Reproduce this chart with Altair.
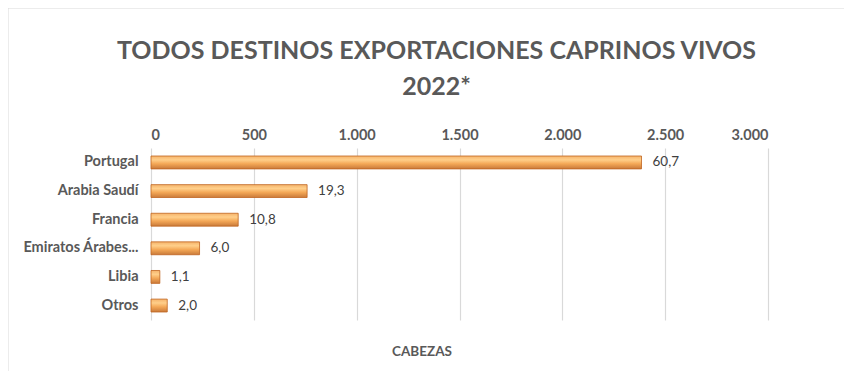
import altair as alt
import pandas as pd

paises = ["Portugal", "Arabia Saudí", "Francia", "Emiratos Árabes...", "Libia", "Otros"]
cabezas = [2385, 759, 424, 236, 43, 79]
etiquetas = ["60,7", "19,3", "10,8", "6,0", "1,1", "2,0"]
ticks = [0, 500, 1000, 1500, 2000, 2500, 3000]

df = pd.DataFrame({"pais": paises, "cabezas": cabezas, "etiqueta": etiquetas})

W, H = 617, 172
FONT = "Lato"
GRAY = "#595959"

yenc = alt.Y("pais:N", sort=paises, scale=alt.Scale(paddingInner=0.55, paddingOuter=0.28),
             axis=alt.Axis(title=None, labelFont=FONT, labelFontWeight="bold", labelFontSize=14.5,
                           labelColor=GRAY, labelPadding=13, ticks=False, domain=False,
                           grid=False, labelLimit=140))

xscale = alt.Scale(domain=[0, 3000], nice=False)

frame = alt.Chart(df).mark_rect(fill="transparent", stroke="#d9d9d9", strokeWidth=1).encode(
    x=alt.value(-143), x2=alt.value(W + 300), y=alt.value(-140), y2=alt.value(H + 300)
).transform_filter("datum.pais == 'Portugal'")

bars = alt.Chart(df).mark_bar(
    color=alt.Gradient(gradient="linear", x1=0, x2=0, y1=0, y2=1,
                       stops=[alt.GradientStop(offset=0, color="#F5B36B"),
                              alt.GradientStop(offset=0.3, color="#FFCF8A"),
                              alt.GradientStop(offset=0.6, color="#F4A857"),
                              alt.GradientStop(offset=1, color="#C97A3A")]),
    stroke="#C0651F", strokeWidth=0.8
).encode(
    x=alt.X("cabezas:Q", scale=xscale,
            axis=alt.Axis(orient="top", values=ticks, format=",.0f", title=None,
                          labelFont=FONT, labelFontWeight="bold", labelFontSize=14.5,
                          labelColor=GRAY, labelPadding=6, ticks=False, domain=False,
                          grid=True, gridColor="#d9d9d9", gridWidth=1.2)),
    y=yenc,
)

labels = alt.Chart(df).mark_text(align="left", baseline="middle", dx=11, font=FONT,
                                 fontSize=13.5, color="#404040").encode(
    x=alt.X("cabezas:Q", scale=xscale,
            axis=alt.Axis(orient="bottom", labels=False, ticks=False, domain=False, grid=False,
                          title="CABEZAS", titleFont=FONT, titleFontWeight="bold",
                          titleFontSize=13.5, titleColor=GRAY, titlePadding=24, titleX=W / 2 - 38)),
    y=alt.Y("pais:N", sort=paises),
    text="etiqueta:N",
)

chart = alt.layer(frame, bars, labels).resolve_axis(x="independent").properties(
    width=W, height=H,
    autosize=alt.AutoSizeParams(type="none"),
    padding={"left": 143, "top": 140, "right": 76, "bottom": 51},
    title=alt.TitleParams(["TODOS DESTINOS EXPORTACIONES CAPRINOS VIVOS", "2022*"],
                          font=FONT, fontSize=25, fontWeight="bold", color=GRAY,
                          anchor="middle", frame="group", dx=-23, dy=92, lineHeight=36, offset=0),
).configure(
    locale={"number": {"decimal": ",", "thousands": ".", "grouping": [3], "currency": ["", " €"]}}
).configure_view(strokeWidth=0, stroke="transparent").configure_axis(
    domain=False, ticks=False
)

chart.save("out.html", embed_options={"renderer": "svg", "actions": False})
